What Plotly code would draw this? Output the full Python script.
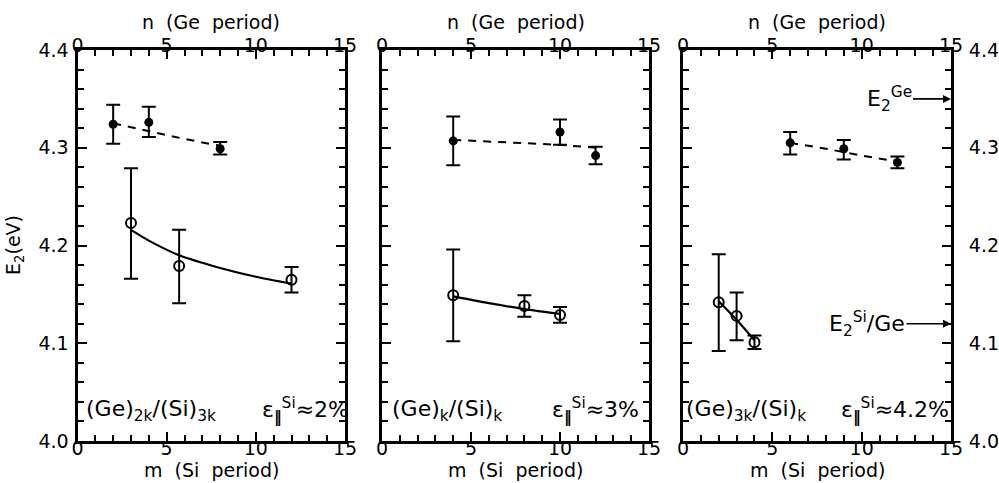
import plotly.graph_objects as go

# ---------------- data ----------------
# Panel 1: (Ge)2k/(Si)3k
p1_n = [2, 4, 8]
p1_ge = [4.324, 4.326, 4.299]
p1_ge_up = [0.020, 0.016, 0.007]
p1_ge_dn = [0.020, 0.015, 0.006]
p1_m = [3, 5.7, 12]
p1_si = [4.223, 4.179, 4.165]
p1_si_up = [0.056, 0.037, 0.013]
p1_si_dn = [0.057, 0.038, 0.013]
p1_fit_n = [2, 4, 6, 8]
p1_fit_ge = [4.325, 4.317, 4.309, 4.302]
p1_fit_m = [3, 4, 5.7, 8, 10, 12]
p1_fit_si = [4.216, 4.205, 4.190, 4.177, 4.168, 4.161]

# Panel 2: (Ge)k/(Si)k
p2_n = [4, 10, 12]
p2_ge = [4.307, 4.316, 4.292]
p2_ge_up = [0.025, 0.013, 0.009]
p2_ge_dn = [0.025, 0.013, 0.009]
p2_m = [4, 8, 10]
p2_si = [4.149, 4.138, 4.129]
p2_si_up = [0.047, 0.011, 0.008]
p2_si_dn = [0.047, 0.011, 0.008]
p2_fit_n = [4, 8, 10, 12]
p2_fit_ge = [4.308, 4.305, 4.303, 4.300]
p2_fit_m = [4, 6, 8, 10]
p2_fit_si = [4.148, 4.141, 4.135, 4.130]

# Panel 3: (Ge)3k/(Si)k
p3_n = [6, 9, 12]
p3_ge = [4.305, 4.299, 4.285]
p3_ge_up = [0.011, 0.009, 0.006]
p3_ge_dn = [0.012, 0.011, 0.006]
p3_m = [2, 3, 4]
p3_si = [4.142, 4.128, 4.101]
p3_si_up = [0.049, 0.024, 0.007]
p3_si_dn = [0.050, 0.025, 0.007]
p3_fit_n = [6, 8, 10, 12]
p3_fit_ge = [4.305, 4.299, 4.292, 4.286]
p3_fit_m = [2, 3, 4]
p3_fit_si = [4.143, 4.124, 4.103]

panel_labels = ["(Ge)<sub>2k</sub>/(Si)<sub>3k</sub>",
                "(Ge)<sub>k</sub>/(Si)<sub>k</sub>",
                "(Ge)<sub>3k</sub>/(Si)<sub>k</sub>"]
strain_labels = ["ε<sub><b>‖</b></sub><sup>Si</sup>≈2%",
                 "ε<sub><b>‖</b></sub><sup>Si</sup>≈3%",
                 "ε<sub><b>‖</b></sub><sup>Si</sup>≈4.2%"]
ref_labels = ["E<sub>2</sub><sup>Ge</sup>", "E<sub>2</sub><sup>Si</sup>/Ge"]
ref_values = [4.35, 4.12]

FONT = "DejaVu Sans"
W, H = 999, 483


def px(x):
    return x / W


def py(y):
    return (H - y) / H


panels = [
    (p1_n, p1_ge, p1_ge_up, p1_ge_dn, p1_m, p1_si, p1_si_up, p1_si_dn,
     p1_fit_n, p1_fit_ge, p1_fit_m, p1_fit_si),
    (p2_n, p2_ge, p2_ge_up, p2_ge_dn, p2_m, p2_si, p2_si_up, p2_si_dn,
     p2_fit_n, p2_fit_ge, p2_fit_m, p2_fit_si),
    (p3_n, p3_ge, p3_ge_up, p3_ge_dn, p3_m, p3_si, p3_si_up, p3_si_dn,
     p3_fit_n, p3_fit_ge, p3_fit_m, p3_fit_si),
]

xdoms = [[px(77.5), px(345)], [px(382), px(649)], [px(683), px(951)]]
ydom = [py(441), py(50)]

fig = go.Figure()

for i, (n, ge, geu, ged, m, si, siu, sid, fn, fge, fm, fsi) in enumerate(panels):
    k = i + 1
    xb = "x" if k == 1 else f"x{k}"
    xt = f"x{k + 3}"
    yy = "y" if k == 1 else f"y{k}"
    fig.add_trace(go.Scatter(x=fn, y=fge, xaxis=xt, yaxis=yy, mode="lines",
                             line=dict(color="black", width=2, dash="8px,7px"),
                             showlegend=False, hoverinfo="skip"))
    fig.add_trace(go.Scatter(x=fm, y=fsi, xaxis=xb, yaxis=yy, mode="lines",
                             line=dict(color="black", width=2.2, shape="spline",
                                       smoothing=0.8),
                             showlegend=False, hoverinfo="skip"))
    fig.add_trace(go.Scatter(x=n, y=ge, xaxis=xt, yaxis=yy, mode="markers",
                             marker=dict(symbol="circle", size=9, color="black"),
                             error_y=dict(type="data", array=geu, arrayminus=ged,
                                          color="black", thickness=2, width=7),
                             showlegend=False))
    fig.add_trace(go.Scatter(x=m, y=si, xaxis=xb, yaxis=yy, mode="markers",
                             marker=dict(symbol="circle-open", size=10, color="black",
                                         line=dict(width=2, color="black")),
                             error_y=dict(type="data", array=siu, arrayminus=sid,
                                          color="black", thickness=2, width=7),
                             showlegend=False))

tickfont = dict(family=FONT, size=19, color="black")
xcommon = dict(range=[0, 15], dtick=5, tick0=0, ticks="inside", ticklen=9,
               tickwidth=2, tickcolor="black", showline=True, linewidth=3,
               linecolor="black", showgrid=False, zeroline=False,
               tickfont=tickfont, automargin=False,
               minor=dict(dtick=1, ticks="inside", ticklen=6, tickwidth=2,
                          tickcolor="black", showgrid=False))
ycommon = dict(range=[4.0, 4.4], dtick=0.1, tick0=4.0, ticks="inside", ticklen=9,
               tickwidth=2, tickcolor="black", showline=True, linewidth=3,
               linecolor="black", showgrid=False, zeroline=False,
               tickfont=tickfont, tickformat=".1f", mirror="ticks",
               automargin=False,
               minor=dict(dtick=0.02, ticks="inside", ticklen=6, tickwidth=2,
                          tickcolor="black", showgrid=False))

layout = dict(width=W, height=H, margin=dict(l=0, r=0, t=0, b=0, pad=0,
                                               autoexpand=False),
              paper_bgcolor="white", plot_bgcolor="white", showlegend=False,
              font=dict(family=FONT, color="black"))
for i in range(3):
    k = i + 1
    yname = "y" if k == 1 else f"y{k}"
    xkey = "xaxis" if k == 1 else f"xaxis{k}"
    ykey = "yaxis" if k == 1 else f"yaxis{k}"
    layout[xkey] = dict(xcommon, domain=xdoms[i], anchor=yname, side="bottom",
                        ticklabelstandoff=-12)
    layout[f"xaxis{k + 3}"] = dict(xcommon, anchor=yname, side="top",
                                   overlaying="x" if k == 1 else f"x{k}",
                                   ticklabelstandoff=-13)
    yax = dict(ycommon, domain=ydom, anchor="x" if k == 1 else f"x{k}")
    if k == 1:
        yax["side"] = "left"
        yax["ticklabelstandoff"] = 2
    elif k == 2:
        yax["side"] = "left"
        yax["showticklabels"] = False
    else:
        yax["side"] = "right"
        yax["ticklabelstandoff"] = 11
    layout[ykey] = yax

fig.update_layout(**layout)

ann = []
labfont = dict(family=FONT, size=19, color="black")
for i in range(3):
    xc = (xdoms[i][0] + xdoms[i][1]) / 2
    ann.append(dict(text="n  (Ge  period)", x=xc, y=py(22), xref="paper",
                    yref="paper", showarrow=False, font=labfont,
                    xanchor="center", yanchor="middle"))
    ann.append(dict(text="m  (Si  period)", x=xc, y=py(470), xref="paper",
                    yref="paper", showarrow=False, font=labfont,
                    xanchor="center", yanchor="middle"))
ann.append(dict(text="E<sub>2</sub>(eV)", x=px(14), y=py(245), xref="paper",
                yref="paper", showarrow=False, textangle=-90, font=labfont,
                xanchor="center", yanchor="middle"))

txtfont = dict(family=FONT, size=22, color="black")
lab_px = [84, 390, 684]
strain_px = [351, 641, 951]
for i in range(3):
    ann.append(dict(text=panel_labels[i], x=px(lab_px[i]), y=py(411), xref="paper",
                    yref="paper", showarrow=False, font=txtfont, xanchor="left",
                    yanchor="middle"))
    ann.append(dict(text=strain_labels[i], x=px(strain_px[i]), y=py(411),
                    xref="paper", yref="paper", showarrow=False, font=txtfont,
                    xanchor="right", yanchor="middle"))

for lab, val, off in zip(ref_labels, ref_values, [-62, -84]):
    ann.append(dict(text=lab, x=15, y=val, xref="x3", yref="y3", showarrow=True,
                    ax=off, ay=0, axref="pixel", ayref="pixel", arrowhead=2,
                    arrowsize=1, arrowwidth=1.6, arrowcolor="black",
                    font=txtfont))

fig.update_layout(annotations=ann)
fig.write_html("out.html",
               config={"displayModeBar": False},
               post_script="document.body.style.margin='0px';"
                           "document.body.style.overflow='hidden';")
